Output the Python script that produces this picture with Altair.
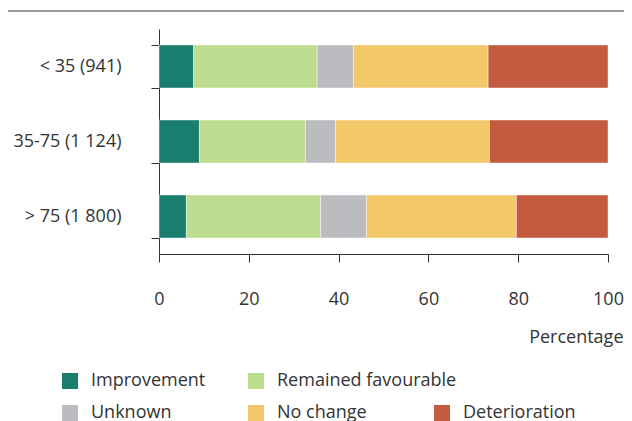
import altair as alt
import pandas as pd

categories = ["< 35 (941)", "35-75 (1 124)", "> 75 (1 800)"]
statuses = ["Improvement", "Remained favourable", "Unknown", "No change", "Deterioration"]
colors = ["#1a7e6e", "#bddc90", "#bbbcc0", "#f3c86b", "#c35b3f"]

improvement = [7.7, 9.0, 6.1]
remained_favourable = [27.5, 23.6, 29.9]
unknown = [8.1, 6.7, 10.2]
no_change = [30.0, 34.3, 33.4]
deterioration = [26.7, 26.4, 20.4]

legend_row1 = ["Improvement", "Remained favourable"]
legend_row2 = ["Unknown", "No change", "Deterioration"]

series = [improvement, remained_favourable, unknown, no_change, deterioration]
rows = []
for si, (name, vals) in enumerate(zip(statuses, series)):
    for cat, v in zip(categories, vals):
        rows.append({"cat": cat, "status": name, "value": v, "order": si})
df = pd.DataFrame(rows)

txt = "#333333"
FONT = "Open Sans"

x_enc = alt.X(
    "value:Q",
    stack="zero",
    scale=alt.Scale(domain=[0, 100], nice=False),
    axis=alt.Axis(
        values=[0, 20, 40, 60, 80, 100],
        title="Percentage",
        grid=False,
        tickSize=8,
        labelPadding=28,
        labelFlush=False,
        labelFontSize=18,
        labelColor=txt,
        domainColor=txt,
        tickColor=txt,
        titleFontSize=18,
        titleFontWeight="normal",
        titleColor=txt,
        titleAlign="right",
        titleBaseline="alphabetic",
        titleX=464,
        titleY=88,
    ),
)
y_enc = alt.Y(
    "cat:N",
    sort=categories,
    scale=alt.Scale(paddingInner=0.427, paddingOuter=0.2135),
    axis=alt.Axis(
        title=None,
        tickBand="extent",
        tickSize=8,
        labelPadding=30,
        labelFontSize=18,
        labelColor=txt,
        domainColor=txt,
        tickColor=txt,
    ),
)


def legend(values, y, pad, align):
    return alt.Legend(
        title=None,
        values=values,
        orient="none",
        direction="horizontal",
        legendX=-98,
        legendY=y,
        gridAlign=align,
        columnPadding=pad,
        symbolType="square",
        symbolSize=256,
        symbolStrokeWidth=0,
        symbolOpacity=1,
        labelFontSize=18,
        labelColor=txt,
        labelOffset=12,
        labelLimit=400,
        padding=0,
    )


bars = alt.Chart(df).mark_bar(stroke="#ffffff", strokeWidth=0.6, strokeOpacity=0.7).encode(
    x=x_enc,
    y=y_enc,
    color=alt.Color(
        "status:N",
        scale=alt.Scale(domain=statuses, range=colors),
        legend=legend(legend_row1, 343, 41, "each"),
    ),
    order=alt.Order("order:Q"),
)

# invisible copy that carries the second legend row
bars_row2 = alt.Chart(df).mark_bar(opacity=0).encode(
    x=x_enc,
    y=y_enc,
    color=alt.Color(
        "status:N",
        scale=alt.Scale(domain=statuses, range=colors),
        legend=legend(legend_row2, 375, 43, "all"),
    ),
    order=alt.Order("order:Q"),
)

top_rule = alt.Chart(pd.DataFrame({"a": [0]})).mark_rule(color=txt, strokeWidth=1).encode(
    x=alt.value(-151), x2=alt.value(465), y=alt.value(-18)
)

chart = (
    alt.layer(bars, bars_row2, top_rule)
    .resolve_scale(color="independent")
    .properties(
        width=449,
        height=225,
        autosize=alt.AutoSizeParams(type="none"),
        padding={"left": 151, "top": 21, "right": 16, "bottom": 167},
    )
    .configure(font=FONT)
    .configure_view(strokeWidth=0)
)

chart.save("out.html", embed_options={"renderer": "svg", "actions": False})
